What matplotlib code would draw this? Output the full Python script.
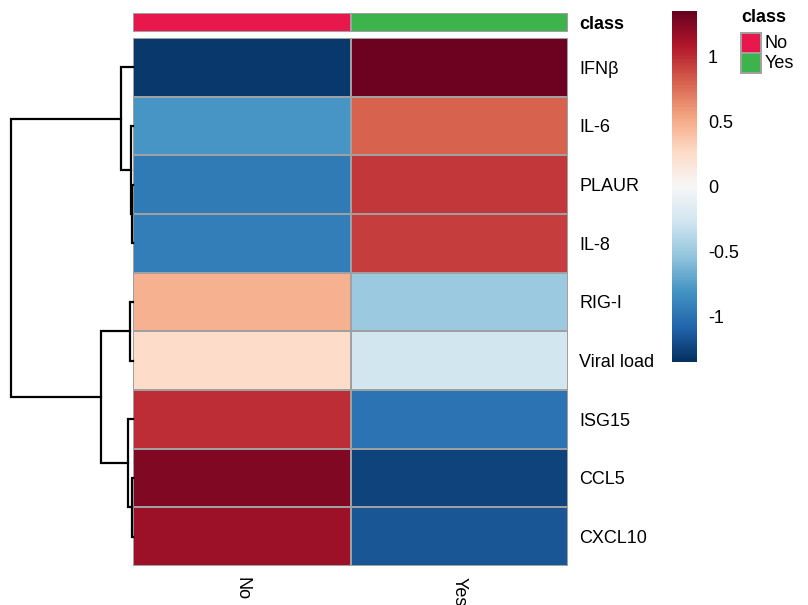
import numpy as np
import matplotlib
matplotlib.use("Agg")
import matplotlib.pyplot as plt
from matplotlib.colors import ListedColormap
from matplotlib.patches import Rectangle

plt.rcParams['font.family'] = ['Liberation Sans', 'DejaVu Sans']

# data (rows in dendrogram order)
genes = ['IFNβ', 'IL-6', 'PLAUR', 'IL-8', 'RIG-I', 'Viral load', 'ISG15', 'CCL5', 'CXCL10']
groups = ['No', 'Yes']
no_vals = [-1.30, -0.80, -0.95, -0.93, 0.48, 0.26, 1.00, 1.25, 1.15]
yes_vals = [1.32, 0.80, 0.95, 0.93, -0.50, -0.26, -1.00, -1.25, -1.15]
class_colors = {'No': '#E8184C', 'Yes': '#3CB44B'}
cbar_ticks = [-1, -0.5, 0, 0.5, 1]
vlim = 1.35

# row dendrogram merges: (left, right, height), new clusters numbered from 9
merges = [(2, 3, 0.006), (1, 9, 0.014), (0, 10, 0.10),
          (7, 8, 0.006), (4, 5, 0.028), (6, 12, 0.042),
          (13, 14, 0.26), (11, 15, 1.0)]

mat = np.array([no_vals, yes_vals]).T
W, H = 808, 605
fs = 13
fig = plt.figure(figsize=(W / 100, H / 100), dpi=100)

def box(x0, y0, x1, y1):
    return [x0 / W, 1 - y1 / H, (x1 - x0) / W, (y1 - y0) / H]

grey = '#A0A0A0'

# heatmap
ax = fig.add_axes(box(133, 38, 568, 566))
mesh = ax.pcolormesh(mat, cmap='RdBu_r', vmin=-vlim, vmax=vlim,
                     edgecolors=grey, linewidth=1.4)
ax.set_xlim(0, 2)
ax.set_ylim(len(genes), 0)
ax.set_xticks(np.arange(2) + 0.5)
ax.set_xticklabels(groups, rotation=270, fontsize=fs)
ax.set_yticks(np.arange(len(genes)) + 0.5)
ax.set_yticklabels(genes, fontsize=fs)
ax.yaxis.tick_right()
ax.tick_params(length=0, pad=8)
for s in ax.spines.values():
    s.set_visible(False)

# annotation bar
axa = fig.add_axes(box(133, 13, 568, 32))
cl = ListedColormap([class_colors[g] for g in groups])
axa.pcolormesh(np.arange(2)[None, :], cmap=cl, vmin=-0.5, vmax=1.5,
               edgecolors=grey, linewidth=1.4)
axa.set_xlim(0, 2)
axa.set_ylim(0, 1)
axa.set_xticks([])
axa.set_yticks([0.5])
axa.set_yticklabels(['class'], fontsize=fs, fontweight='bold')
axa.yaxis.tick_right()
axa.tick_params(length=0, pad=8)
for s in axa.spines.values():
    s.set_visible(False)

# dendrogram
axd = fig.add_axes(box(11, 38, 133, 566))
pos = {i: (i + 0.5, 0.0) for i in range(len(genes))}
for k, (a, b, h) in enumerate(merges):
    ya, ha = pos[a]
    yb, hb = pos[b]
    axd.plot([ha, h, h, hb], [ya, ya, yb, yb], color='black', lw=1.6,
             solid_joinstyle='miter', clip_on=False)
    pos[len(genes) + k] = ((ya + yb) / 2, h)
axd.set_xlim(1.0, 0)
axd.set_ylim(len(genes), 0)
axd.axis('off')

# colorbar
axc = fig.add_axes(box(672, 11, 697, 362))
cb = fig.colorbar(mesh, cax=axc, ticks=cbar_ticks)
cb.outline.set_visible(False)
cb.ax.set_yticklabels([f'{t:g}' for t in cbar_ticks], fontsize=fs)
cb.ax.tick_params(length=0, pad=8)

# legend
fig.text(741 / W, 1 - 18 / H, 'class', fontsize=fs, fontweight='bold', va='center')
for i, g in enumerate(groups):
    y0 = 33 + i * 20
    fig.add_artist(Rectangle((741 / W, 1 - (y0 + 20) / H), 20 / W, 20 / H,
                             facecolor=class_colors[g], edgecolor=grey, lw=1.4,
                             transform=fig.transFigure))
    fig.text(765 / W, 1 - (y0 + 10) / H, g, fontsize=fs, va='center')

fig.savefig('out.png', dpi=100)
